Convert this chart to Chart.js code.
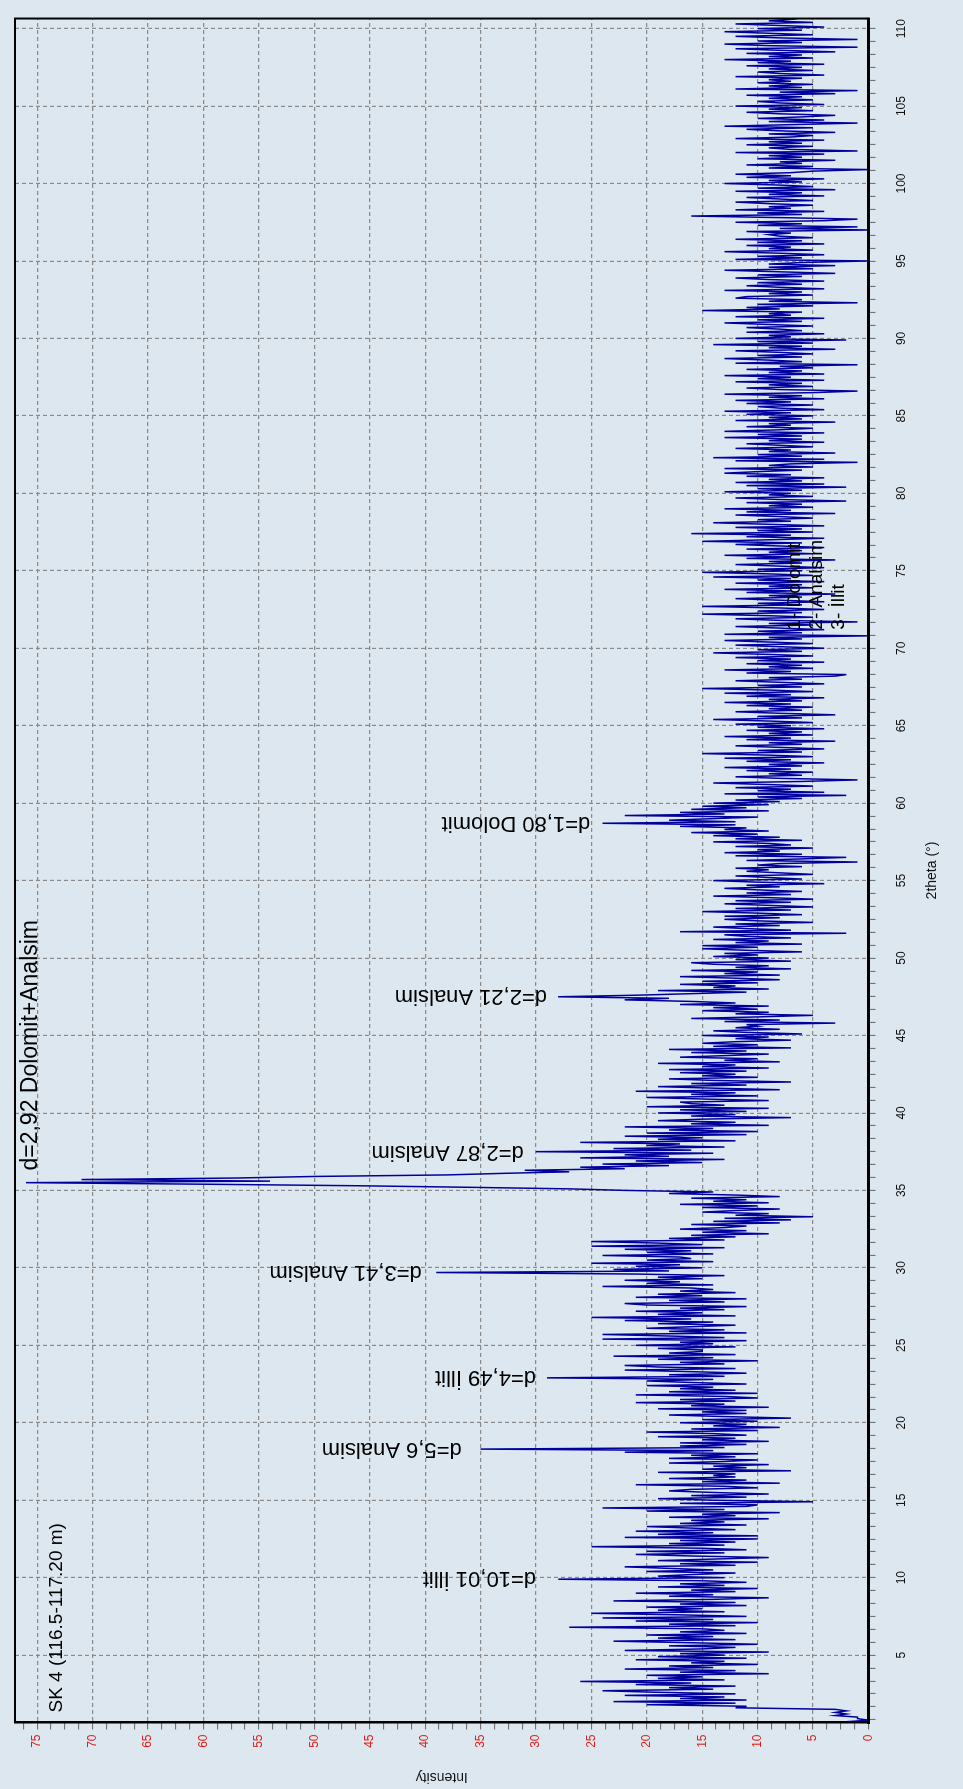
<!DOCTYPE html>
<html>
<head>
<meta charset="utf-8">
<title>SK 4 XRD</title>
<script src="https://cdn.jsdelivr.net/npm/chart.js@4.4.1/dist/chart.umd.min.js"></script>
<style>
  html, body { margin: 0; padding: 0; background: #dde7f0; overflow: hidden; }
  /* the chart is drawn landscape and turned a quarter to the left, like the scan */
  #wrap { position: absolute; left: 0; top: 1789px; width: 1789px; height: 963px;
          transform-origin: 0 0; transform: rotate(-90deg); }
  canvas { display: block; background: #dde7f0; }
</style>
</head>
<body>
<div id="wrap"><canvas id="xrd" width="1789" height="963"></canvas></div>
<script>
// scan, 0.1 degree steps, one block per 10 degrees
const thetaStep = 0.1;
const scan00 = [2,0,1,1,3,2,3,2,3,12, 11,20,12,23,11,17,13,22,12,19, 24,14,18,12,21,16,26,13,19,15,
                20,9,17,12,22,14,18,10,16,13, 21,11,19,13,17,9,22,15,12,18, 10,16,23,12,19,14,20,11,17,13,
                15,27,12,18,10,21,14,24,11,17, 25,13,19,15,20,11,17,12,23,14, 9,18,14,21,12,16,10,19,13,17,
                11,15,28,13,19,16,12,20,14,18];
const scan10 = [22,12,17,10,19,14,9,16,21,13, 20,11,15,25,13,18,12,17,10,22, 10,19,14,21,12,16,20,11,17,13,
                16,9,18,12,15,8,20,13,24,11, 10,17,5,14,19,11,16,9,14,18, 16,10,13,21,8,15,11,18,12,14,
                12,19,7,15,11,14,9,18,13,10, 18,12,16,10,22,14,35,13,17,11, 17,9,15,12,19,11,14,20,10,16,
                8,14,11,17,10,15,7,13,18,11];
const scan20 = [15,11,19,9,16,13,21,12,17,10, 13,21,10,18,12,17,14,20,11,16, 20,14,29,13,18,11,16,22,12,19,
                22,13,17,10,19,14,23,12,18,15, 15,19,12,21,14,17,11,24,13,18, 24,11,18,13,20,16,12,19,14,22,
                16,25,12,19,15,21,13,17,11,20, 22,13,18,11,21,15,19,12,17,14, 16,24,14,20,17,22,15,19,13,21,
                39,18,23,15,21,17,25,14,20,16];
const scan30 = [17,24,14,20,16,22,13,25,15,19, 25,13,18,12,16,9,15,11,17,13, 11,16,8,14,7,13,5,12,9,15,
                12,8,15,10,17,9,14,11,16,8, 12,18,14,22,27,36,46,60,76,54, 71,57,50,38,33,27,31,22,26,18,
                24,15,21,13,26,18,22,14,30,16, 23,13,20,17,26,12,19,15,22,11, 20,10,18,14,22,9,16,12,19,15,
                7,16,12,19,11,17,9,20,13,16];
const scan40 = [17,9,15,20,10,16,12,21,8,14, 19,11,16,7,14,18,10,15,12,17, 11,18,9,15,12,19,8,13,10,17,
                13,9,16,11,18,7,14,10,15,12, 7,12,9,15,6,11,14,8,12,10, 11,3,13,8,16,10,5,12,9,15,
                10,14,9,17,12,16,22,18,28,21, 16,11,19,9,14,12,17,10,15,8, 12,17,8,13,10,16,7,12,9,14,
                16,7,12,9,14,10,13,6,11,15];
const scan50 = [10,15,6,12,9,14,7,11,13,2, 17,7,11,14,8,12,5,10,13,8, 13,6,10,15,7,12,5,9,13,7,
                12,5,9,14,7,11,6,10,13,8, 11,4,10,14,6,9,12,5,8,11, 9,12,6,10,8,1,11,6,2,12,
                6,13,8,10,5,12,7,9,14,6, 12,8,14,10,16,9,13,11,17,12, 24,12,18,14,10,22,13,17,9,16,
                11,15,9,14,8,12,6,10,2,13];
const scan60 = [4,10,7,12,5,9,14,6,1,8, 12,6,9,5,11,7,13,6,9,4, 11,7,13,5,9,15,6,10,4,8,
                12,6,9,3,11,7,13,5,9,6, 11,4,10,7,12,5,9,14,6,10, 3,8,12,6,9,5,11,7,13,6,
                9,4,11,7,13,5,9,15,6,10, 4,8,12,6,9,3,2,11,7,13, 5,9,6,11,4,10,7,12,5,9,
                14,6,10,4,8,12,5,9,13,6];
const scan70 = [9,0,13,6,10,4,8,12,5,9, 1,8,12,5,9,15,6,10,4,8, 15,6,10,4,8,12,6,9,3,11,
                7,13,5,9,6,12,4,10,7,14, 5,9,15,6,10,4,8,12,6,9, 3,11,7,13,5,9,6,11,4,8,
                12,6,15,9,4,11,7,16,5,10, 6,12,4,9,14,7,10,5,8,12, 3,11,7,13,5,9,6,11,2,8,
                12,5,9,7,13,6,10,2,11,4];
const scan80 = [12,6,9,4,11,7,13,10,6,13, 5,9,7,1,12,4,14,6,10,3, 9,7,12,5,8,11,4,9,6,13,
                6,10,4,13,8,5,11,7,9,3, 12,6,9,5,11,7,13,4,8,10, 5,11,7,12,4,9,6,13,5,1,
                8,11,5,9,6,12,4,10,7,13, 4,9,6,11,5,8,1,12,6,9, 13,6,10,5,8,12,3,9,6,14,
                5,10,2,12,7,9,4,11,6,8];
const scan90 = [11,5,9,13,6,10,4,12,7,9, 6,15,8,11,5,10,1,9,6,12, 11,5,9,6,13,4,8,11,6,10,
                4,9,12,6,10,3,8,13,5,9, 3,9,6,0,12,6,10,4,8,13, 5,9,7,11,4,10,6,12,5,8,
                9,7,11,0,8,1,10,6,12,4, 1,8,16,6,10,4,12,7,9,5, 9,12,5,8,11,4,9,6,12,3,
                10,5,8,13,6,9,4,11,7,12];
const scan100 = [7,5,0,9,5,11,6,8,3,10, 6,9,4,12,1,7,9,5,11,6, 9,4,12,7,5,9,3,8,11,5,
                 13,7,1,9,4,10,6,3,8,11, 5,9,6,12,4,8,10,5,9,6, 11,3,8,1,12,6,9,5,10,7,
                 9,6,12,4,8,10,5,9,6,11, 4,10,7,13,5,9,6,11,3,8, 12,1,9,13,6,10,1,8,12,5,
                 9,13,6,10,4,8,12,5,9,7, 8];
const blockStart = [0.7, 10.7, 20.7, 30.7, 40.7, 50.7, 60.7, 70.7, 80.7, 90.7, 100.7];
const blocks = [scan00, scan10, scan20, scan30, scan40, scan50, scan60, scan70, scan80, scan90, scan100];

// peak labels: position (2theta) and the intensity where the text begins
const peakNames = ["d=10,01 İllit", "d=5,6 Analsim", "d=4,49 İllit", "d=3,41 Analsim",
                   "d=2,87 Analsim", "d=2,21 Analsim", "d=1,80 Dolomit"];
const peakTheta = [9.97, 18.3, 22.95, 29.7, 37.47, 47.55, 58.7];
const peakTextAt = [30.0, 36.7, 30.0, 40.3, 31.1, 29.0, 25.1];
const mainPeakName = "d=2,92 Dolomit+Analsim";
const sampleTitle = "SK 4 (116.5-117.20 m)";
const mineralKey = ["1- Dolomit", "2- Analsim", "3- İllit"];

const points = [];
blocks.forEach((vals, b) => {
  vals.forEach((v, i) => {
    points.push({x: +(blockStart[b] + i * thetaStep).toFixed(2), y: v});
  });
});

const FONT = '"Liberation Sans", Arial, sans-serif';

function isMajor(v) {
  return Math.abs(v / 5 - Math.round(v / 5)) < 1e-6;
}

// minor ticks between the labelled ones
function stepTicks(min, max, step) {
  let t = [];
  for (let k = Math.ceil(min / step - 1e-9); k * step <= max + 1e-9; k++) {
    t.push({value: k * step});
  }
  return t;
}

const notes = {
  id: 'notes',
  afterDatasetsDraw(chart) {
    const {ctx, chartArea: a, scales: {x, y}} = chart;
    ctx.save();
    ctx.strokeStyle = '#000';
    ctx.lineWidth = 2;
    ctx.strokeRect(a.left, a.top, a.right - a.left, a.bottom - a.top);

    ctx.fillStyle = '#000';
    ctx.font = '22px ' + FONT;
    ctx.textAlign = 'left';
    ctx.textBaseline = 'middle';
    peakNames.forEach((name, i) => {
      ctx.save();
      ctx.translate(x.getPixelForValue(peakTheta[i]), y.getPixelForValue(peakTextAt[i]));
      ctx.rotate(-Math.PI / 2);
      ctx.fillText(name, 0, 0);
      ctx.restore();
    });

    ctx.textBaseline = 'alphabetic';
    ctx.font = '23px ' + FONT;
    ctx.fillText(mainPeakName, x.getPixelForValue(36.28), y.getPixelForValue(75.05));

    ctx.font = '19px ' + FONT;
    ctx.fillText(sampleTitle, a.left + 10, a.top + 47);

    // mineral key, low on the right
    ctx.font = '19px ' + FONT;
    ctx.textBaseline = 'middle';
    mineralKey.forEach((line, i) => {
      ctx.fillText(line, x.getPixelForValue(71.2), 795 + i * 22);
    });
    ctx.restore();
  }
};

new Chart(document.getElementById('xrd'), {
  type: 'line',
  data: {
    datasets: [{
      data: points,
      borderColor: '#00009c',
      borderWidth: 1.5,
      pointRadius: 0,
      tension: 0
    }]
  },
  options: {
    responsive: false,
    animation: false,
    devicePixelRatio: 1,
    layout: { padding: { left: 0, right: 6, top: 15, bottom: 0 } },
    plugins: { legend: { display: false }, tooltip: { enabled: false } },
    scales: {
      x: {
        type: 'linear',
        position: 'bottom',
        min: 0.65,
        max: 110.65,
        afterBuildTicks: (scale) => { scale.ticks = stepTicks(scale.min, scale.max, 5 / 6); },
        afterFit: (scale) => { scale.height = 94.5; },
        ticks: {
          autoSkip: false,
          maxRotation: 0,
          padding: 19,
          color: '#111',
          font: { family: FONT, size: 12 },
          callback: (v) => isMajor(v) ? String(Math.round(v)) : ''
        },
        grid: {
          color: (c) => c.tick && isMajor(c.tick.value) ? '#8a8a8a' : 'rgba(0,0,0,0)',
          lineWidth: 1.2,
          tickLength: 7,
          tickColor: '#666',
          tickWidth: 1
        },
        border: { display: true, color: '#000', width: 3, dash: [4, 3] },
        title: {
          display: true,
          text: '2theta (°)',
          color: '#111',
          font: { family: FONT, size: 14 },
          padding: { top: 0, bottom: 22 }
        }
      },
      y: {
        type: 'linear',
        position: 'left',
        min: 0,
        max: 77,
        afterBuildTicks: (scale) => { scale.ticks = stepTicks(scale.min, scale.max, 1.25); },
        afterFit: (scale) => { scale.width = 66.5; },
        ticks: {
          autoSkip: false,
          padding: 5,
          color: '#e0201c',
          font: { family: FONT, size: 12 },
          callback: (v) => isMajor(v) ? String(Math.round(v)) : ''
        },
        grid: {
          color: (c) => c.tick && isMajor(c.tick.value) ? '#8a8a8a' : 'rgba(0,0,0,0)',
          lineWidth: 1.2,
          tickLength: 7,
          tickColor: '#666',
          tickWidth: 1
        },
        border: { display: true, color: '#000', width: 2, dash: [4, 3] },
        title: {
          display: true,
          text: 'Intensity',
          color: '#111',
          font: { family: FONT, size: 14 },
          padding: { top: 4, bottom: 0 }
        }
      }
    }
  },
  plugins: [notes]
});
</script>
</body>
</html>
